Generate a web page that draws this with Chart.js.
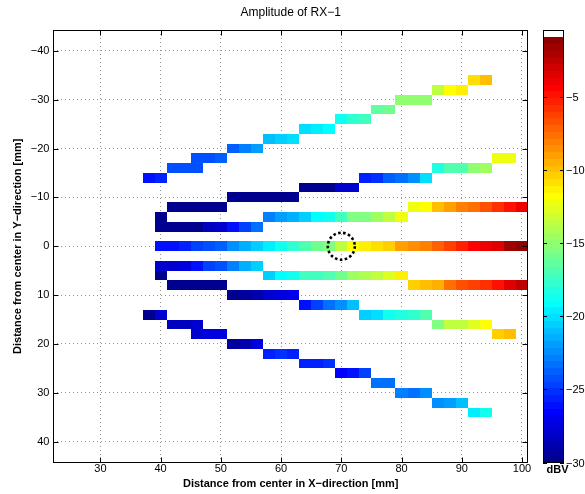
<!DOCTYPE html>
<html>
<head>
<meta charset="utf-8">
<script src="https://cdn.jsdelivr.net/npm/chart.js@4.4.1/dist/chart.umd.min.js"></script>
<style>
  html, body { margin: 0; padding: 0; background: #fff; }
  #wrap { width: 585px; height: 494px; }
</style>
</head>
<body>
<div id="wrap"><canvas id="c" width="585" height="494"></canvas></div>
<script>
// Amplitude of RX-1 — measured amplitude map (dBV), one cell per 2 mm step

const xTicks = [30, 40, 50, 60, 70, 80, 90, 100];
const yTicks = [-40, -30, -20, -10, 0, 10, 20, 30, 40];
const cbTicks = [-5, -10, -15, -20, -25, -30];
const cellSize = 2;          // mm
const cMin = -30, cMax = -0.44; // colour axis limits (dBV)
const nColors = 64;

// one entry per run of cells: row (Y mm), first cell (X mm), values (dBV)
const segRowY = [
  -34, -32, -30, -28, -26, -24, -22, -20,
  -18, -18, -16, -16, -14, -14, -12, -10,
  -8, -8, -6, -6, -4, 0, 4, 6,
  6, 8, 8, 10, 12, 14, 14, 16,
  16, 18, 18, 20, 22, 24, 26, 28,
  30, 32, 34
];
const segStartX = [
  92, 86, 80, 76, 70, 64, 58, 52,
  46, 96, 42, 86, 38, 74, 64, 52,
  42, 82, 40, 58, 40, 40, 40, 40,
  58, 42, 82, 52, 64, 38, 74, 42,
  86, 46, 96, 52, 58, 64, 70, 76,
  80, 86, 92
];
const segValues = [
  [-10.8, -10.1],
  [-13.5, -11.6, -11.5],
  [-15.0, -14.8, -14.9],
  [-16.3, -15.8],
  [-18.9, -17.7, -17.3],
  [-20.3, -19.6, -19.3],
  [-20.9, -20.7, -20.1],
  [-23.7, -22.8, -21.8],
  [-24.4, -24.4, -23.6],
  [-12.4, -12.0],
  [-24.4, -24.4, -24.4],
  [-18.1, -16.8, -16.8, -14.9, -14.4],
  [-26.1, -25.6],
  [-25.6, -25.1, -23.7, -23.3, -22.6, -20.3],
  [-29.7, -29.7, -29.7, -27.8, -27.8],
  [-29.7, -29.7, -29.7, -29.7, -29.7, -29.7],
  [-29.7, -29.7, -29.7, -29.7, -29.7],
  [-12.2, -11.6, -10.1, -9.0, -8.2, -7.6, -6.7, -5.7, -4.8, -4.0],
  [-29.7],
  [-22.8, -22.1, -21.4, -20.4, -19.1, -18.9, -17.3, -15.4, -15.4, -14.4, -13.5, -12.2],
  [-29.7, -29.7, -29.7, -29.7, -28.6, -28.1, -26.3, -24.7, -23.5],
  [-26.1, -25.9, -25.5, -24.7, -24.2, -23.6, -22.3, -21.5, -20.6, -19.7, -18.7, -17.7, -16.8, -15.8, -15.4, -13.5,
   -11.6, -11.4, -10.8, -10.4, -9.0, -8.5, -8.0, -7.2, -6.3, -5.5, -4.4, -3.8, -3.4, -1.8, -1.2],
  [-28.1, -27.8, -27.6, -26.1, -24.7, -24.1, -23.0, -21.4, -20.6],
  [-29.7],
  [-20.4, -19.3, -18.9, -17.3, -17.3, -16.8, -15.8, -14.4, -14.0, -13.4, -12.7, -11.3],
  [-29.7, -29.7, -29.7, -29.7, -29.7],
  [-10.2, -9.9, -9.3, -7.6, -6.7, -6.2, -5.7, -4.8, -3.4, -2.5],
  [-29.7, -29.5, -29.0, -27.9, -27.4, -27.1],
  [-26.3, -24.7, -23.5, -22.3, -21.0],
  [-29.7, -27.8],
  [-20.5, -20.2, -18.9, -18.2, -17.7, -16.8],
  [-28.3, -28.3, -28.1],
  [-15.4, -13.5, -13.5, -12.7, -11.6],
  [-27.8, -27.4, -27.4],
  [-10.6, -9.9],
  [-29.5, -28.8, -27.4],
  [-25.4, -25.1, -25.4],
  [-25.6, -25.5, -25.2],
  [-26.4, -26.1, -24.7],
  [-23.5, -23.5],
  [-22.8, -23.3, -22.6],
  [-22.3, -21.8, -20.9],
  [-19.6, -18.9]
];

// dotted circle marking the source position
const markerX = [70];
const markerY = [0];

const FONT = '"Liberation Sans", Arial, Helvetica, sans-serif';
Chart.defaults.font.family = FONT;

function jet(i) {
  const t = (i + 1) / nColors;
  const c = f => Math.round(255 * Math.max(0, Math.min(1, 1.5 - Math.abs(4 * t - f))));
  return `rgb(${c(3)},${c(2)},${c(1)})`;
}
function colorOf(i) { return i === nColors - 1 ? '#ffffff' : jet(i); }
function colorIndex(v) {
  const i = Math.floor((v - cMin) / (cMax - cMin) * nColors);
  return Math.max(0, Math.min(nColors - 1, i));
}
const fmt = v => v < 0 ? '\u2212' + Math.abs(v) : String(v);

const cells = [];
segRowY.forEach((yv, s) => {
  segValues[s].forEach((v, k) => cells.push({ x: segStartX[s] + k * cellSize, y: yv, v }));
});
const markers = markerX.map((x, i) => ({ x, y: markerY[i] }));

const heatmap = {
  id: 'heatmap',
  beforeDatasetsDraw(chart) {
    const { ctx, chartArea: a, scales: { x, y } } = chart;
    ctx.save();
    ctx.beginPath();
    ctx.rect(a.left, a.top, a.right - a.left, a.bottom - a.top);
    ctx.clip();
    chart.data.datasets[0].data.forEach(p => {
      const x0 = Math.round(x.getPixelForValue(p.x - cellSize / 2));
      const x1 = Math.round(x.getPixelForValue(p.x + cellSize / 2));
      const y0 = Math.round(y.getPixelForValue(p.y - cellSize / 2));
      const y1 = Math.round(y.getPixelForValue(p.y + cellSize / 2));
      ctx.fillStyle = colorOf(colorIndex(p.v));
      ctx.fillRect(Math.min(x0, x1), Math.min(y0, y1), Math.abs(x1 - x0), Math.abs(y1 - y0));
    });
    ctx.restore();
  },
  afterDraw(chart) {
    const { ctx, chartArea: a, scales: { x, y } } = chart;
    const L = Math.round(a.left) + 0.5, R = Math.round(a.right) - 0.5;
    const T = Math.round(a.top) + 0.5, B = Math.round(a.bottom) - 0.5;
    const tl = 5;
    ctx.save();
    ctx.strokeStyle = '#000';
    ctx.lineWidth = 1;
    ctx.beginPath();
    xTicks.forEach(v => {
      const px = Math.round(x.getPixelForValue(v)) + 0.5;
      ctx.moveTo(px, B); ctx.lineTo(px, B - tl);
      ctx.moveTo(px, T); ctx.lineTo(px, T + tl);
    });
    yTicks.forEach(v => {
      const py = Math.round(y.getPixelForValue(v)) + 0.5;
      ctx.moveTo(L, py); ctx.lineTo(L + tl, py);
      ctx.moveTo(R, py); ctx.lineTo(R - tl, py);
    });
    ctx.stroke();
    ctx.strokeRect(L, T, R - L, B - T);

    // dotted circle marker
    chart.data.datasets[1].data.forEach(p => {
      ctx.save();
      ctx.lineWidth = 2.6;
      ctx.setLineDash([2.6, 2.4]);
      ctx.beginPath();
      ctx.arc(x.getPixelForValue(p.x), y.getPixelForValue(p.y), 13.5, 0, Math.PI * 2);
      ctx.stroke();
      ctx.restore();
    });

    // colour bar
    const cbL = Math.round(a.right) + 15, cbW = 21;
    const h = B - T;
    for (let i = 0; i < nColors; i++) {
      const yTop = Math.round(B - (i + 1) / nColors * h);
      const yBot = Math.round(B - i / nColors * h);
      ctx.fillStyle = colorOf(i);
      ctx.fillRect(cbL, yTop, cbW, yBot - yTop);
    }
    ctx.strokeRect(cbL + 0.5, T, cbW - 1, h);
    ctx.fillStyle = '#000';
    ctx.font = '11px ' + FONT;
    ctx.textAlign = 'left';
    ctx.textBaseline = 'middle';
    ctx.beginPath();
    cbTicks.forEach(v => {
      const py = Math.round(B - (v - cMin) / (cMax - cMin) * h) + 0.5;
      ctx.moveTo(cbL, py); ctx.lineTo(cbL + 4, py);
      ctx.moveTo(cbL + cbW, py); ctx.lineTo(cbL + cbW - 4, py);
      ctx.fillText(fmt(v), cbL + cbW + 2, py);
    });
    ctx.stroke();
    ctx.font = 'bold 11px ' + FONT;
    ctx.textAlign = 'center';
    ctx.fillText('dBV', cbL + cbW / 2 + 4, 470);

    // title
    ctx.font = '12px ' + FONT;
    ctx.fillText('Amplitude of RX\u22121', (a.left + a.right) / 2, 13);
    ctx.restore();
  }
};

const gridStyle = { color: 'rgba(0,0,0,0.42)', lineWidth: 1, drawTicks: false };
const gridBorder = { display: false, dash: [1, 3] };

new Chart(document.getElementById('c'), {
  type: 'scatter',
  data: {
    datasets: [
      { data: cells, pointRadius: 0, pointHoverRadius: 0 },
      { data: markers, pointRadius: 0, pointHoverRadius: 0 }
    ]
  },
  options: {
    responsive: false,
    animation: false,
    devicePixelRatio: 1,
    events: [],
    layout: { padding: { top: 30, right: 57, left: 0, bottom: 0 } },
    plugins: { legend: { display: false }, tooltip: { enabled: false }, title: { display: false } },
    scales: {
      x: {
        type: 'linear', min: 22.2, max: 101, z: 1,
        afterBuildTicks: s => { s.ticks = xTicks.map(v => ({ value: v })); },
        afterFit: s => { s.height = 31.5; },
        grid: gridStyle,
        border: gridBorder,
        ticks: { padding: 0, color: '#000', font: { size: 11 }, maxRotation: 0, autoSkip: false, callback: fmt },
        title: {
          display: true, text: 'Distance from center in X\u2212direction [mm]', color: '#000',
          font: { size: 11, weight: 'bold' }, padding: { top: 0, bottom: 3.4 }
        }
      },
      y: {
        type: 'linear', reverse: true, min: -44.25, max: 44.25, z: 1,
        afterBuildTicks: s => { s.ticks = yTicks.map(v => ({ value: v })); },
        afterFit: s => { s.width = 53.4; },
        grid: gridStyle,
        border: gridBorder,
        ticks: { padding: 4, color: '#000', font: { size: 11 }, autoSkip: false, callback: fmt },
        title: {
          display: true, text: 'Distance from center in Y\u2212direction [mm]', color: '#000',
          font: { size: 11, weight: 'bold' }, padding: { top: 11.4, bottom: 0 }
        }
      }
    }
  },
  plugins: [heatmap]
});
</script>
</body>
</html>
